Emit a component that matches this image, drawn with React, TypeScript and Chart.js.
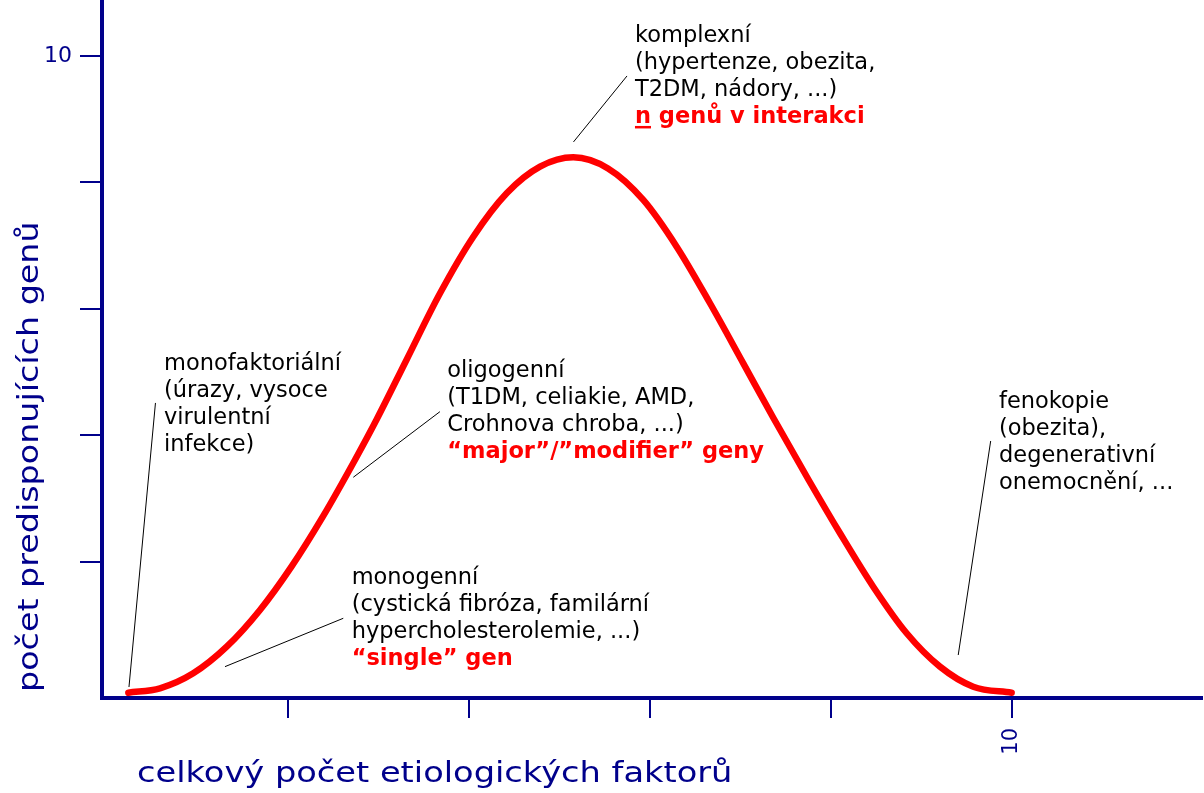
import React, { useEffect, useRef } from "react";
import { Chart, registerables } from "chart.js";

Chart.register(...registerables);

// ---- data ----
const curveX = [0.231, 0.581, 0.949, 1.319, 1.687, 2.035, 2.382, 2.737, 2.974, 3.307, 3.678, 4.046, 4.415, 4.784, 5.152, 5.536, 5.926, 6.295, 6.664, 7.032, 7.365, 7.755, 8.102, 8.469, 8.839, 9.207, 9.575, 10.0];
const curveY = [-0.073, -0.003, 0.234, 0.655, 1.236, 1.921, 2.712, 3.609, 4.241, 5.191, 6.246, 7.141, 7.828, 8.249, 8.397, 8.22, 7.722, 6.983, 6.088, 5.138, 4.273, 3.292, 2.449, 1.604, 0.867, 0.339, 0.022, -0.073];

const xTickValues = [2, 4, 6, 8, 10];
const yTickValues = [2, 4, 6, 8, 10];
const xTickLabels = ["", "", "", "", "10"];
const yTickLabels = ["", "", "", "", "10"];

const xTitle = "celkový počet etiologických faktorů";
const yTitle = "počet predisponujících genů";

// leader lines (from text side to curve side), data units
const leaderFromX = [0.531, 2.608, 3.677, 5.746, 9.768];
const leaderFromY = [4.511, 1.104, 4.373, 9.684, 3.909];
const leaderToX = [0.238, 1.3, 2.719, 5.154, 9.409];
const leaderToY = [0.017, 0.339, 3.335, 8.64, 0.523];

// annotation texts
const monofaktorialniText = ["monofaktoriální", "(úrazy, vysoce", "virulentní", "infekce)"];
const monogenniText = ["monogenní", "(cystická fibróza, familární", "hypercholesterolemie, ...)"];
const monogenniRed = "“single” gen";
const oligogenniText = ["oligogenní", "(T1DM, celiakie, AMD,", "Crohnova chroba, ...)"];
const oligogenniRed = "“major”/”modifier” geny";
const komplexniText = ["komplexní", "(hypertenze, obezita,", "T2DM, nádory, ...)"];
const komplexniRed = "n genů v interakci";
const fenokopieText = ["fenokopie", "(obezita),", "degenerativní", "onemocnění, ..."];

// ---- layout / style ----
const NAVY = "#00008B";
const RED = "#FF0000";
const NOTE_FONT = '22.5px "DejaVu Sans"';
const NOTE_BOLD = 'bold 22.5px "DejaVu Sans"';
const TITLE_FONT = '29px "DejaVu Sans"';
const X_TITLE_STRETCH = 1.16;
const Y_TITLE_STRETCH = 1.15;
const LINE_H = 27;

type Note = { x: number; y: number; lines: string[]; red?: string; underlineFirst?: boolean };
const notes: Note[] = [
  { x: 0.625, y: 5.032, lines: monofaktorialniText },
  { x: 2.701, y: 1.647, lines: monogenniText, red: monogenniRed },
  { x: 3.758, y: 4.922, lines: oligogenniText, red: oligogenniRed },
  { x: 5.834, y: 10.222, lines: komplexniText, red: komplexniRed, underlineFirst: true },
  { x: 9.86, y: 4.431, lines: fenokopieText },
];

const notesPlugin = {
  id: "notes",
  afterDatasetsDraw(chart: any) {
    const { ctx, scales, chartArea } = chart;
    const xs = scales.x;
    const ys = scales.y;
    ctx.save();
    ctx.textAlign = "left";
    ctx.textBaseline = "alphabetic";
    notes.forEach((n) => {
      const px = xs.getPixelForValue(n.x);
      const py = ys.getPixelForValue(n.y);
      ctx.font = NOTE_FONT;
      ctx.fillStyle = "#000000";
      n.lines.forEach((t, i) => ctx.fillText(t, px, py + i * LINE_H));
      if (n.red) {
        const ry = py + n.lines.length * LINE_H;
        ctx.font = NOTE_BOLD;
        ctx.fillStyle = RED;
        ctx.fillText(n.red, px, ry);
        if (n.underlineFirst) {
          const w = ctx.measureText(n.red.split(" ")[0]).width;
          ctx.fillRect(px, ry + 3, w, 2.5);
        }
      }
    });
    // axis titles
    ctx.fillStyle = NAVY;
    ctx.font = TITLE_FONT;
    ctx.save();
    ctx.translate(chartArea.left + 35, 782);
    ctx.scale(X_TITLE_STRETCH, 1);
    ctx.fillText(xTitle, 0, 0);
    ctx.restore();
    ctx.save();
    ctx.translate(38, chartArea.bottom - 6);
    ctx.rotate(-Math.PI / 2);
    ctx.scale(Y_TITLE_STRETCH, 1);
    ctx.fillText(yTitle, 0, 0);
    ctx.restore();
    ctx.restore();
  },
};

export default function App() {
  const ref = useRef<HTMLCanvasElement | null>(null);
  useEffect(() => {
    if (!ref.current) return;
    const leaderSets = leaderFromX.map((_, i) => ({
      data: [
        { x: leaderFromX[i], y: leaderFromY[i] },
        { x: leaderToX[i], y: leaderToY[i] },
      ],
      borderColor: "#000000",
      borderWidth: 1,
      pointRadius: 0,
      tension: 0,
      order: 2,
    }));
    const chart = new Chart(ref.current, {
      type: "line",
      data: {
        datasets: [
          {
            data: curveX.map((x, i) => ({ x, y: curveY[i] })),
            borderColor: RED,
            borderWidth: 6.5,
            borderCapStyle: "round",
            borderJoinStyle: "round",
            pointRadius: 0,
            cubicInterpolationMode: "monotone",
            clip: false,
            order: 1,
          } as any,
          ...leaderSets,
        ],
      },
      options: {
        animation: false,
        responsive: false,
        devicePixelRatio: 1,
        layout: { padding: { top: 2, right: 2, left: 0, bottom: 0 } },
        plugins: { legend: { display: false }, tooltip: { enabled: false } },
        scales: {
          x: {
            type: "linear",
            min: -0.0603,
            max: 12.105,
            afterBuildTicks: (s: any) => {
              s.ticks = xTickValues.map((v) => ({ value: v }));
            },
            afterFit: (s: any) => {
              s.height = 95;
              s.paddingLeft = 0;
              s.paddingRight = 0;
            },
            ticks: {
              autoSkip: false,
              minRotation: 90,
              maxRotation: 90,
              color: NAVY,
              padding: 10,
              font: { family: "DejaVu Sans", size: 21 },
              callback: (v: any) => xTickLabels[xTickValues.indexOf(Number(v))] ?? "",
            },
            grid: { drawOnChartArea: false, drawTicks: true, tickLength: 20, tickWidth: 2, tickColor: NAVY, lineWidth: 2, color: NAVY },
            border: { display: true, color: NAVY, width: 4 },
          },
          y: {
            type: "linear",
            min: -0.157,
            max: 10.854,
            afterBuildTicks: (s: any) => {
              s.ticks = yTickValues.map((v) => ({ value: v }));
            },
            afterFit: (s: any) => {
              s.width = 102;
              s.paddingTop = 0;
              s.paddingBottom = 0;
            },
            ticks: {
              autoSkip: false,
              color: NAVY,
              padding: 8,
              font: { family: "DejaVu Sans", size: 22 },
              callback: (v: any) => yTickLabels[yTickValues.indexOf(Number(v))] ?? "",
            },
            grid: { drawOnChartArea: false, drawTicks: true, tickLength: 22, tickWidth: 2, tickColor: NAVY, lineWidth: 2, color: NAVY },
            border: { display: true, color: NAVY, width: 4 },
          },
        },
      } as any,
      plugins: [notesPlugin],
    });
    return () => chart.destroy();
  }, []);
  return (
    <div style={{ position: "fixed", left: 0, top: 0, width: 1204, height: 793, background: "#ffffff" }}>
      <canvas ref={ref} width={1204} height={793} style={{ display: "block" }} />
    </div>
  );
}
